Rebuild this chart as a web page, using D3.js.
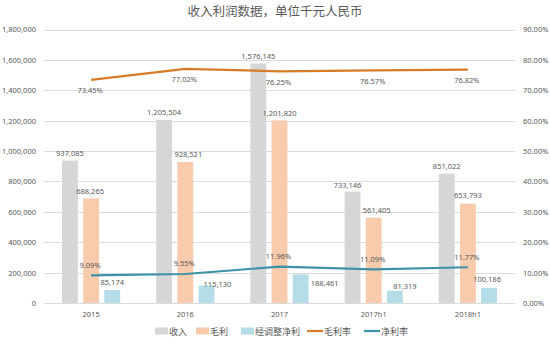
<!DOCTYPE html>
<html>
<head>
<meta charset="utf-8">
<script src="https://cdn.jsdelivr.net/npm/d3@7"></script>
<style>
  html, body { margin: 0; padding: 0; background: #fff; }
  svg { display: block; font-family: "Noto Sans", "Noto Sans CJK SC", sans-serif; }
</style>
</head>
<body>
<svg id="chart" width="550" height="343"></svg>
<script>
// Revenue / profit data (thousand RMB) and ratios
const categories = ["2015", "2016", "2017", "2017h1", "2018h1"];
const revenue = [937085, 1205504, 1576145, 733146, 851022];
const grossProfit = [688265, 928521, 1201820, 561405, 653793];
const adjNetProfit = [85174, 115130, 188461, 81319, 100186];
const grossMargin = [73.45, 77.02, 76.25, 76.57, 76.82];
const netMargin = [9.09, 9.55, 11.96, 11.09, 11.77];
const leftTicks = [0, 200000, 400000, 600000, 800000, 1000000, 1200000, 1400000, 1600000, 1800000];
const rightTicks = [0, 10, 20, 30, 40, 50, 60, 70, 80, 90];
const seriesNames = ["收入", "毛利", "经调整净利", "毛利率", "净利率"];

const colors = {
  revenue: "#d6d6d6",
  gross: "#f8cbad",
  net: "#b4dde7",
  grossLine: "#d67b27",
  netLine: "#3e92a8",
  grid: "#dcdcdc",
  text: "#595959"
};

const svg = d3.select("#chart");
const plot = { left: 44, right: 515, top: 29.5, bottom: 303 };

const x = d3.scaleBand().domain(categories).range([plot.left, plot.right]).padding(0);
const inner = d3.scaleBand().domain(["revenue", "gross", "net"])
  .range([18, x.bandwidth() - 18]).paddingInner(0.25).paddingOuter(0);
const yL = d3.scaleLinear().domain([0, 1800000]).range([plot.bottom, plot.top]);
const yR = d3.scaleLinear().domain([0, 90]).range([plot.bottom, plot.top]);

// Title
svg.append("text")
  .attr("x", 275).attr("y", 16)
  .attr("text-anchor", "middle")
  .attr("font-family", "'Noto Sans CJK SC', sans-serif")
  .attr("font-size", 12.5)
  .attr("fill", colors.text)
  .text("收入利润数据，单位千元人民币");

// Gridlines
svg.append("g").selectAll("line").data(leftTicks).join("line")
  .attr("x1", plot.left).attr("x2", plot.right)
  .attr("y1", d => Math.round(yL(d)) + 0.5).attr("y2", d => Math.round(yL(d)) + 0.5)
  .attr("stroke", colors.grid).attr("stroke-width", 1);

// Left axis
const axisL = svg.append("g").attr("transform", `translate(${plot.left},0)`)
  .call(d3.axisLeft(yL).tickValues(leftTicks).tickFormat(d3.format(",")).tickSize(0).tickPadding(8));
axisL.select(".domain").remove();
axisL.selectAll("text").attr("fill", colors.text).attr("font-size", 7.5)
  .attr("font-family", "'Noto Sans', sans-serif");

// Right axis
const axisR = svg.append("g").attr("transform", `translate(${plot.right},0)`)
  .call(d3.axisRight(yR).tickValues(rightTicks).tickFormat(d => d.toFixed(2) + "%").tickSize(0).tickPadding(8));
axisR.select(".domain").remove();
axisR.selectAll("text").attr("fill", colors.text).attr("font-size", 7.5)
  .attr("font-family", "'Noto Sans', sans-serif");

// Category axis labels
const axisB = svg.append("g").attr("transform", `translate(0,${plot.bottom})`)
  .call(d3.axisBottom(x).tickSize(0).tickPadding(9));
axisB.select(".domain").remove();
axisB.selectAll("text").attr("fill", colors.text).attr("font-size", 7.5)
  .attr("font-family", "'Noto Sans', sans-serif");

// Bars
const barSeries = [
  { key: "revenue", values: revenue, color: colors.revenue, dx: [0, 0, 0, -5, 0], dy: [-4.5, -4.5, -4.5, -4, -4.5] },
  { key: "gross", values: grossProfit, color: colors.gross, dx: [-1, 3, 0, 3, 0], dy: [-4, -4.5, -4.5, -5, -6] },
  { key: "net", values: adjNetProfit, color: colors.net, dx: [0, 11, 24, 10, -2], dy: [-5, 1.5, 12, -1.5, -6] }
];

const fmt = d3.format(",");
barSeries.forEach(s => {
  const g = svg.append("g");
  g.selectAll("rect").data(s.values).join("rect")
    .attr("x", (d, i) => x(categories[i]) + inner(s.key))
    .attr("width", inner.bandwidth())
    .attr("y", d => yL(d))
    .attr("height", d => plot.bottom - yL(d))
    .attr("fill", s.color);
  g.selectAll("text").data(s.values).join("text")
    .attr("x", (d, i) => x(categories[i]) + inner(s.key) + inner.bandwidth() / 2 + s.dx[i])
    .attr("y", (d, i) => yL(d) + s.dy[i])
    .attr("text-anchor", "middle")
    .attr("font-size", 7.5)
    .attr("fill", colors.text)
    .text(d => fmt(d));
});

// Ratio lines
const cx = i => x(categories[i]) + x.bandwidth() / 2;
const lineGen = d3.line().x((d, i) => cx(i)).y(d => yR(d));

svg.append("path").datum(grossMargin)
  .attr("d", lineGen).attr("fill", "none")
  .attr("stroke", colors.grossLine).attr("stroke-width", 2.2).attr("stroke-linejoin", "round");
svg.append("path").datum(netMargin)
  .attr("d", lineGen).attr("fill", "none")
  .attr("stroke", colors.netLine).attr("stroke-width", 2.2).attr("stroke-linejoin", "round");

svg.append("g").selectAll("text").data(grossMargin).join("text")
  .attr("x", (d, i) => cx(i) - 1)
  .attr("y", d => yR(d) + 13.5)
  .attr("text-anchor", "middle").attr("font-size", 7.5).attr("fill", colors.text)
  .text(d => d.toFixed(2) + "%");

svg.append("g").selectAll("text").data(netMargin).join("text")
  .attr("x", (d, i) => cx(i) - 1)
  .attr("y", d => yR(d) - 7.5)
  .attr("text-anchor", "middle").attr("font-size", 7.5).attr("fill", colors.text)
  .text(d => d.toFixed(2) + "%");

// Legend
const legendItems = [
  { name: seriesNames[0], color: colors.revenue, type: "rect", x: 155 },
  { name: seriesNames[1], color: colors.gross, type: "rect", x: 196 },
  { name: seriesNames[2], color: colors.net, type: "rect", x: 241 },
  { name: seriesNames[3], color: colors.grossLine, type: "line", x: 307 },
  { name: seriesNames[4], color: colors.netLine, type: "line", x: 364 }
];
const ly = 331;
const lg = svg.append("g");
legendItems.forEach(it => {
  if (it.type === "rect") {
    lg.append("rect").attr("x", it.x).attr("y", ly - 3.5).attr("width", 13).attr("height", 7).attr("fill", it.color);
  } else {
    lg.append("line").attr("x1", it.x).attr("x2", it.x + 16).attr("y1", ly).attr("y2", ly)
      .attr("stroke", it.color).attr("stroke-width", 2.2);
  }
  lg.append("text").attr("x", it.x + (it.type === "rect" ? 14 : 17)).attr("y", ly + 3.5)
    .attr("font-family", "'Noto Sans CJK SC', sans-serif")
    .attr("font-size", 9).attr("fill", colors.text).text(it.name);
});
</script>
</body>
</html>
